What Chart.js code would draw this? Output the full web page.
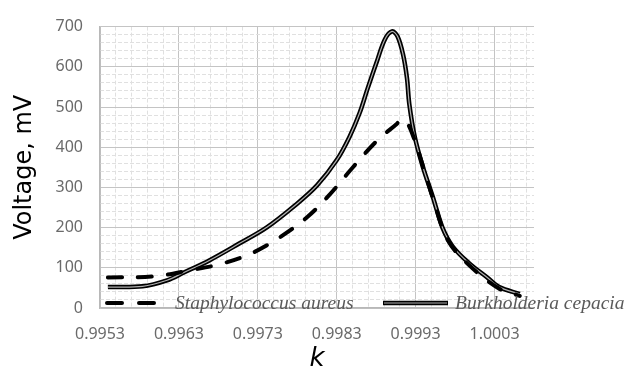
<!DOCTYPE html>
<html>
<head>
<meta charset="utf-8">
<script src="https://cdn.jsdelivr.net/npm/chart.js@4.4.0/dist/chart.umd.min.js"></script>
<style>
  html, body { margin: 0; padding: 0; background: #fff; }
</style>
</head>
<body>
<canvas id="chart" width="628" height="372"></canvas>
<script>
const seriesNames = ["Staphylococcus aureus", "Burkholderia cepacia"];

// Staphylococcus aureus (dashed)
const staphK = [0.99540, 0.99600, 0.99644, 0.99682, 0.99722, 0.99758, 0.99792, 0.99821, 0.99850, 0.99881,
                0.99906, 0.99912, 0.99919, 0.99929, 0.99941, 0.99954, 0.99971, 0.99998, 1.00036, 1.00062];
const staphV = [76, 79, 94, 109, 136, 176, 225, 282, 349, 416,
                458, 470, 462, 416, 342, 260, 168, 106, 48, 30];

// Burkholderia cepacia (double solid)
const burkK = [0.99540, 0.99584, 0.99615, 0.99635, 0.99669, 0.99707, 0.99741, 0.99777, 0.99805, 0.99830,
               0.99846, 0.99859, 0.99869, 0.99881, 0.99891, 0.99900, 0.99907, 0.99914, 0.99919, 0.99922,
               0.99929, 0.99939, 0.99952, 0.99964, 0.99977, 0.99998, 1.00020, 1.00036, 1.00062];
const burkV = [52, 54, 69, 87, 119, 161, 200, 255, 305, 368,
               425, 485, 545, 614, 668, 688, 676, 631, 572, 507,
               425, 352, 275, 200, 153, 111, 77, 52, 35];

const kTicks = [0.9953, 0.9963, 0.9973, 0.9983, 0.9993, 1.0003];
const voltTicks = [0, 100, 200, 300, 400, 500, 600, 700];

const toPoints = (xs, ys) => xs.map((x, i) => ({ x: x, y: ys[i] }));

const tickFont = { family: "'Noto Sans', sans-serif", size: 16 };
const tickColor = "#6a6a6a";

const inlineLegend = {
  id: "inlineLegend",
  afterDraw(chart) {
    const ctx = chart.ctx;
    const y = 303;
    ctx.save();
    // dashed sample
    ctx.strokeStyle = "#000";
    ctx.lineWidth = 4;
    ctx.lineCap = "round";
    ctx.setLineDash([15, 17]);
    ctx.beginPath();
    ctx.moveTo(107, y);
    ctx.lineTo(155, y);
    ctx.stroke();
    ctx.setLineDash([]);
    ctx.lineCap = "butt";
    // double solid sample
    ctx.lineWidth = 4.5;
    ctx.beginPath();
    ctx.moveTo(383, y);
    ctx.lineTo(448, y);
    ctx.stroke();
    ctx.strokeStyle = "#b0b0b0";
    ctx.lineWidth = 1.2;
    ctx.beginPath();
    ctx.moveTo(384, y);
    ctx.lineTo(447, y);
    ctx.stroke();
    // names
    ctx.fillStyle = "#5a5a5a";
    ctx.font = "italic 19.5px 'Liberation Serif', serif";
    ctx.textBaseline = "alphabetic";
    ctx.fillText(seriesNames[0], 175, 309);
    ctx.fillText(seriesNames[1], 455, 309);
    ctx.restore();
  }
};

new Chart(document.getElementById("chart"), {
  type: "line",
  data: {
    datasets: [
      {
        label: seriesNames[0],
        data: toPoints(staphK, staphV),
        borderColor: "#000",
        borderWidth: 4,
        borderDash: [14, 16],
        borderCapStyle: "round",
        tension: 0.35,
        pointRadius: 0,
        fill: false
      },
      {
        label: seriesNames[1] + " inner",
        data: toPoints(burkK, burkV),
        borderColor: "#b0b0b0",
        borderWidth: 1.2,
        tension: 0.35,
        pointRadius: 0,
        fill: false
      },
      {
        label: seriesNames[1],
        data: toPoints(burkK, burkV),
        borderColor: "#000",
        borderWidth: 4.5,
        tension: 0.35,
        pointRadius: 0,
        fill: false
      }
    ]
  },
  options: {
    responsive: false,
    animation: false,
    devicePixelRatio: 1,
    layout: { padding: { top: 24, right: 94, left: 0, bottom: 0 } },
    plugins: {
      legend: { display: false },
      tooltip: { enabled: false }
    },
    scales: {
      xMinor: {
        type: "linear",
        position: "bottom",
        min: 0.9953,
        max: 1.0008,
        afterBuildTicks: axis => {
          const t = [];
          for (let i = 1; i <= 27; i++) {
            if (i % 5 !== 0) t.push({ value: 0.9953 + i * 0.0002 });
          }
          axis.ticks = t;
        },
        afterFit: s => { s.height = 0; },
        ticks: { display: false },
        grid: { color: "#e0e0e0", lineWidth: 1, drawTicks: false },
        border: { display: false, dash: [4, 2] }
      },
      x: {
        type: "linear",
        position: "bottom",
        min: 0.9953,
        max: 1.0008,
        afterBuildTicks: axis => { axis.ticks = kTicks.map(v => ({ value: v })); },
        afterFit: s => { s.height = 64; },
        ticks: {
          font: tickFont,
          color: tickColor,
          padding: 17,
          maxRotation: 0,
          callback: v => v.toFixed(4)
        },
        grid: { color: "#c4c4c4", lineWidth: 1, drawTicks: false },
        border: { color: "#b8b8b8", width: 1.5 },
        title: {
          display: true,
          text: "k",
          color: "#000",
          font: { family: "'DejaVu Sans', sans-serif", size: 26, style: "italic", lineHeight: 1 },
          padding: { top: 0, bottom: 0 }
        }
      },
      yMinor: {
        type: "linear",
        position: "left",
        min: 0,
        max: 700,
        afterBuildTicks: axis => {
          const t = [];
          for (let v = 20; v < 700; v += 20) {
            if (v % 100 !== 0) t.push({ value: v });
          }
          axis.ticks = t;
        },
        afterFit: s => { s.width = 0; },
        ticks: { display: false },
        grid: { color: "#e0e0e0", lineWidth: 1, drawTicks: false },
        border: { display: false, dash: [4, 2] }
      },
      y: {
        type: "linear",
        position: "left",
        min: 0,
        max: 700,
        afterBuildTicks: axis => { axis.ticks = voltTicks.map(v => ({ value: v })); },
        afterFit: s => { s.width = 100; },
        ticks: { font: tickFont, color: tickColor, padding: 17 },
        grid: { color: "#c4c4c4", lineWidth: 1, drawTicks: false },
        border: { color: "#b8b8b8", width: 1.5 },
        title: {
          display: true,
          text: "Voltage, mV",
          color: "#000",
          font: { family: "'DejaVu Sans', sans-serif", size: 24 },
          padding: { top: 10, bottom: 0 }
        }
      }
    }
  },
  plugins: [inlineLegend]
});
</script>
</body>
</html>
